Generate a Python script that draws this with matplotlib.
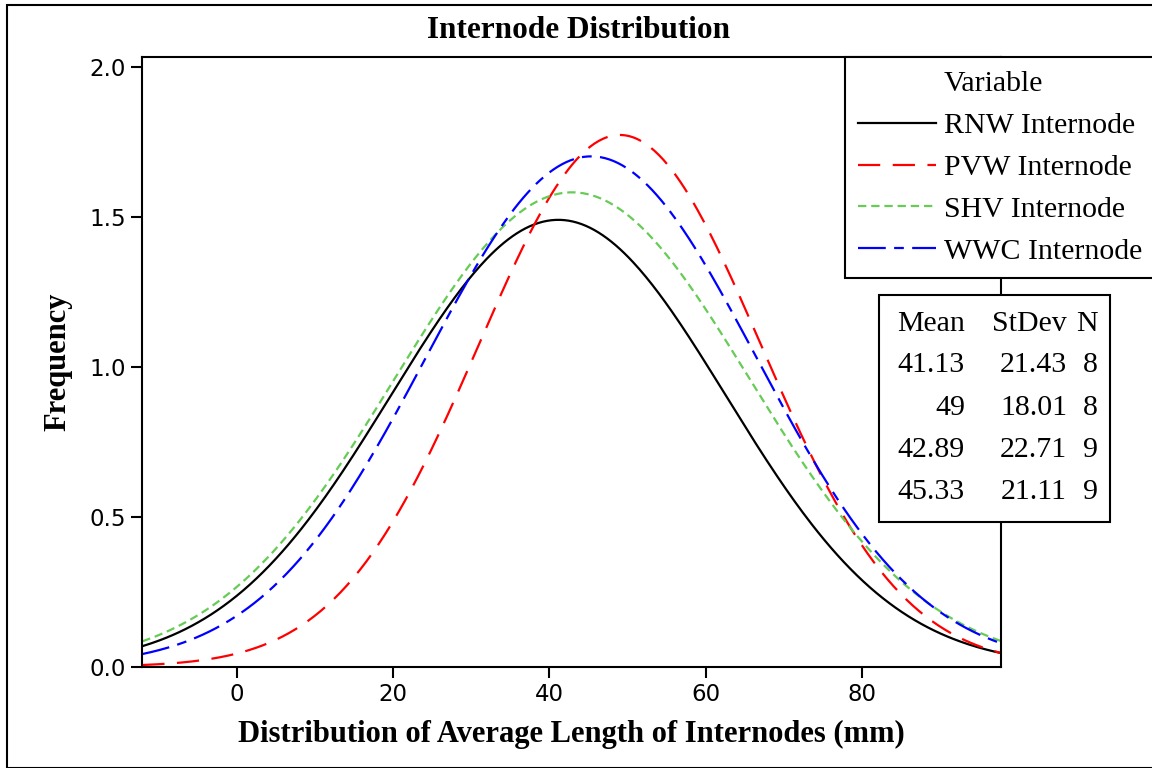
import numpy as np
import matplotlib
matplotlib.use("Agg")
from matplotlib import pyplot as plt
from matplotlib.lines import Line2D

plt.rcParams['lines.scale_dashes'] = False

# summary statistics shown in the chart (normal fit, bin width 10)
names = ['RNW Internode', 'PVW Internode', 'SHV Internode', 'WWC Internode']
means = [41.13, 49, 42.89, 45.33]
stdevs = [21.43, 18.01, 22.71, 21.11]
counts = [8, 8, 9, 9]
mean_txt = ['41.13', '49', '42.89', '45.33']
sd_txt = ['21.43', '18.01', '22.71', '21.11']
bin_width = 10

colors = ['black', 'red', '#66cc55', 'blue']
dashes = [None, (16, 9), (6, 3.5), (20, 6, 7, 6)]

xmin, xmax = -12.07, 97.74
ymax = 2.031

serif = 'Liberation Serif'
sans = 'DejaVu Sans'
W, H = 1152, 768

fig = plt.figure(figsize=(11.52, 7.68), dpi=100)
# outer frame
fig.patches.append(plt.Rectangle((7/W, 0), 1.2, 1 - 5/H, transform=fig.transFigure,
                                 fill=False, lw=1.5, edgecolor='black'))
ax = fig.add_axes([142.3/W, 1 - 666.7/H, (1001-142.3)/W, (666.7-57.3)/H])

x = np.linspace(xmin, xmax, 400)
for nm, m, s, n, c, d in zip(names, means, stdevs, counts, colors, dashes):
    y = n * bin_width * np.exp(-0.5*((x-m)/s)**2) / (s*np.sqrt(2*np.pi))
    ln, = ax.plot(x, y, color=c, lw=1.6, label=nm)
    if d is not None:
        ln.set_dashes(d)

ax.set_xlim(xmin, xmax)
ax.set_ylim(0, ymax)
ax.set_xticks([0, 20, 40, 60, 80])
ax.set_yticks([0.0, 0.5, 1.0, 1.5, 2.0])
ax.set_yticklabels(['0.0', '0.5', '1.0', '1.5', '2.0'])
ax.tick_params(direction='out', length=8, width=1.5, labelsize=16.5, pad=4)
for lab in ax.get_xticklabels() + ax.get_yticklabels():
    lab.set_family(sans)
for sp in ax.spines.values():
    sp.set_linewidth(1.5)

ax.set_xlabel('Distribution of Average Length of Internodes (mm)', family=serif,
              fontsize=22, fontweight='bold', labelpad=10)
ax.set_ylabel('Frequency', family=serif, fontsize=22, fontweight='bold', labelpad=12)
fig.text(0.502, 1 - 31/H, 'Internode Distribution', family=serif, fontsize=22.5,
         fontweight='bold', ha='center', va='center')

# legend box
leg = ax.legend(handles=[Line2D([], [], color='none')] + list(ax.get_lines()),
                labels=['Variable'] + names, loc='upper left',
                bbox_to_anchor=(845/W, 1 - 57/H), bbox_transform=fig.transFigure,
                prop={'family': serif, 'size': 21.5}, frameon=True, fancybox=False,
                handlelength=2.6, handletextpad=0.25, borderpad=0.45, labelspacing=0.5,
                borderaxespad=0, framealpha=1)
leg.get_frame().set_edgecolor('black')
leg.get_frame().set_linewidth(1.5)
leg.set_zorder(5)

# stats table box
tx0, ty0, tx1, ty1 = 879, 295, 1110, 522
fig.patches.append(plt.Rectangle((tx0/W, 1 - ty1/H), (tx1-tx0)/W, (ty1-ty0)/H,
                                 transform=fig.transFigure, facecolor='white',
                                 edgecolor='black', lw=1.5, zorder=5))
rows_y = [324, 365, 408, 450, 492]
col_x = [965, 1067, 1098]
hdr = ['Mean', 'StDev', 'N']
for cx, h in zip(col_x, hdr):
    fig.text(cx/W, 1 - rows_y[0]/H, h, family=serif, fontsize=21.5,
             ha='right', va='center', zorder=6)
for i in range(len(names)):
    vals = [mean_txt[i], sd_txt[i], str(counts[i])]
    for cx, v in zip(col_x, vals):
        fig.text(cx/W, 1 - rows_y[i+1]/H, v, family=serif, fontsize=21.5,
                 ha='right', va='center', zorder=6)

fig.savefig('out.png', dpi=100)
